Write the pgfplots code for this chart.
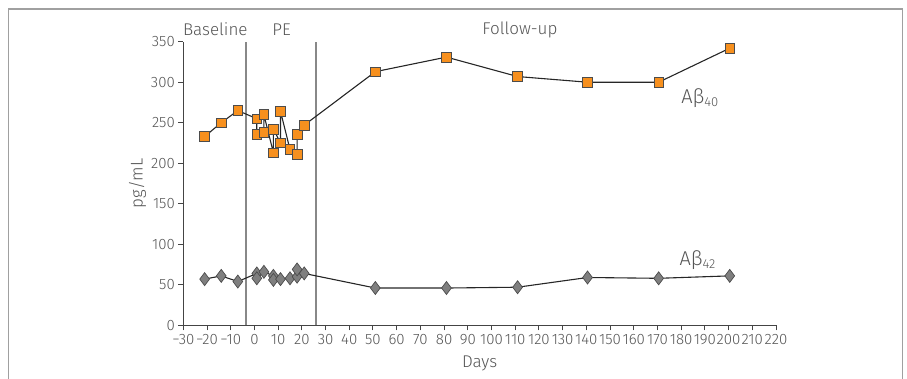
\documentclass[border=0pt]{standalone}
\usepackage{pgfplots}
\pgfplotsset{compat=1.18}
\usepackage{fontspec}
\setmainfont{Fira Sans}[UprightFont={* Light}]
\definecolor{txt}{HTML}{555555}
\definecolor{axl}{HTML}{444444}
\definecolor{sep}{HTML}{888888}
\definecolor{frm}{HTML}{A0A0A0}
\definecolor{orng}{HTML}{F7901E}
\definecolor{dmd}{HTML}{7F7F7F}
\begin{document}
\begin{tikzpicture}
\begin{axis}[
  at={(0,0)}, anchor=south west,
  scale only axis, width=592.7pt, height=283.6pt,
  xmin=-30, xmax=220, ymin=0, ymax=350,
  axis lines=left, axis line style={axl, line width=1.4pt, -},
  xtick={-30,-20,...,220}, ytick={0,50,...,350},
  xticklabels={−30,−20,−10,0,10,20,30,40,50,60,70,80,90,100,110,120,130,140,150,160,170,180,190,200,210,220},
  tick style={axl, line width=1pt}, tick align=outside,
  major tick length=5pt,
  /pgf/number format/assume math mode=true,
  ticklabel style={font=\fontsize{15}{17}\selectfont, text=txt},
  xticklabel style={yshift=-1pt},
  xlabel={Days}, ylabel={pg/mL},
  label style={font=\fontsize{17}{19}\selectfont, text=txt},
  xlabel style={yshift=-4pt},
  ylabel style={yshift=-2pt},
  clip=false,
]
\draw[sep, line width=1.3pt] (axis cs:-3.5,0) -- (axis cs:-3.5,350);
\draw[sep, line width=1.3pt] (axis cs:26,0) -- (axis cs:26,350);
\addplot[color=black!85, line width=1.1pt, mark=square*, mark size=4.8pt,
  mark options={fill=orng, draw=black!70, line width=0.7pt}]
  coordinates {(-21,233) (-14,250) (-7,265) (1,255) (1,236) (4,238) (4,260)
  (8,213) (8,242) (11,225) (11,264) (15,217) (18,211) (18,236) (21,247)
  (51,313) (81,331) (111,307) (140.5,300) (170.5,300) (200.5,342)};
\addplot[color=black!85, line width=1.1pt, mark=diamond*, mark size=6.5pt,
  mark options={fill=dmd, draw=black!70, line width=0.7pt}]
  coordinates {(-21,57) (-14,61) (-7,54) (1,64) (1,58) (4,66) (8,61) (8,56)
  (11,57) (15,58) (18,60) (18,69) (21,64)
  (51,46) (81,46) (111,47) (140.5,59) (170.5,58) (200.5,61)};
\node[font=\fontsize{20}{22}\selectfont, text=txt] at (axis cs:188,280) {Aβ\textsubscript{\fontsize{13}{14}\selectfont 40}};
\node[font=\fontsize{20}{22}\selectfont, text=txt] at (axis cs:187,81) {Aβ\textsubscript{\fontsize{13}{14}\selectfont 42}};
\node[font=\fontsize{17}{19}\selectfont, text=txt] at (axis cs:-16.5,365) {Baseline};
\node[font=\fontsize{17}{19}\selectfont, text=txt] at (axis cs:11.5,365) {PE};
\node[font=\fontsize{17}{19}\selectfont, text=txt] at (axis cs:112,365) {Follow-up};
\end{axis}
\draw[frm, line width=1.4pt] (-175pt,-70pt) -- (-175pt,316.3pt) -- (719pt,316.3pt) -- (719pt,-70pt);
\pgfresetboundingbox
\useasboundingbox (-183.3pt,-52.7pt) rectangle (723.7pt,325.3pt);
\end{tikzpicture}
\end{document}
